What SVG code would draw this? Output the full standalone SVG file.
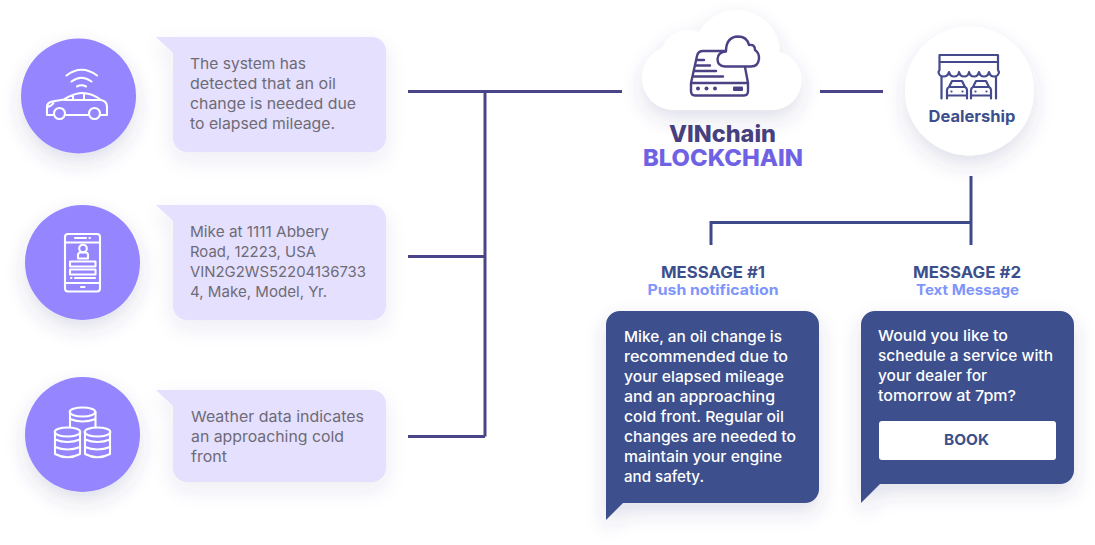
<svg xmlns="http://www.w3.org/2000/svg" width="1095" height="545" viewBox="0 0 1095 545">
<style>
text{font-family:Inter,"Noto Sans","Liberation Sans",sans-serif}
.body{font-size:15px;fill:#6e6b76}
.msg{font-size:15px;fill:#fff;font-weight:500}
.title{font-size:15.5px;font-weight:700;fill:#3c4f8c}
.sub{font-size:14px;font-weight:700;fill:#7e95fb}
.conn{fill:none;stroke:#4a4488;stroke-width:3}
.ic{fill:none;stroke:#fff;stroke-width:2.1;stroke-linecap:round;stroke-linejoin:round}
.id{fill:none;stroke:#4a4285;stroke-width:2.4;stroke-linecap:round;stroke-linejoin:round}
.idb{fill:none;stroke:#444a8c;stroke-width:2.2;stroke-linecap:round;stroke-linejoin:round}
.circ{fill:#9585ff;filter:url(#sh)}
.bub{fill:#e5e0fe;filter:url(#sh2)}
.dark{fill:#3c4f8c;filter:url(#sh)}
</style>
<defs>
<filter id="sh" x="-40%" y="-40%" width="180%" height="190%"><feDropShadow dx="0" dy="9" stdDeviation="10" flood-color="#40387f" flood-opacity=".16"/></filter>
<filter id="sh2" x="-30%" y="-40%" width="160%" height="190%"><feDropShadow dx="0" dy="8" stdDeviation="10" flood-color="#40387f" flood-opacity=".09"/></filter>
</defs>
<rect width="1095" height="545" fill="#fff"/>

<g id="connectors">
<path class="conn" d="M408 91.500H622M485 91.500V436.500M408 256.500H485M408 436.500H485M820 91.500H883"/>
<path class="conn" style="stroke:#3f4a8a" d="M971 176V245M711 245V222.500H971"/>
</g>

<g id="node-car">
<circle class="circ" cx="78.500" cy="96" r="57.500"/>
<path class="ic" d="M66.500 75.500Q81.500 64 97 75.500M71.500 81.500Q81.500 74 91.500 81.500M77 86.500Q81.500 84 86 86.500"/>
<path class="ic" d="M53.500 115H47V106.500Q47 103 52 101.500L64 99.500Q74 93 82 93Q92 93 101 100Q107 101 107 107V115H100M88 115H66M64 100H100M73 95V100M84 93.500V100M47.500 107Q52 106 54 102"/>
<circle class="ic" cx="59.500" cy="113.500" r="5.500"/><circle class="ic" cx="94.500" cy="113.500" r="5.500"/>
</g>
<g id="bubble-1">
<path class="bub" d="M156 37H372a14 14 0 0 1 14 14V138a14 14 0 0 1-14 14H187a14 14 0 0 1-14-14V53Z"/>
<text class="body" x="190" y="69" textLength="116" lengthAdjust="spacingAndGlyphs">The system has</text>
<text class="body" x="190" y="89" textLength="146" lengthAdjust="spacingAndGlyphs">detected that an oil</text>
<text class="body" x="190" y="109" textLength="166" lengthAdjust="spacingAndGlyphs">change is needed due</text>
<text class="body" x="190" y="129" textLength="145" lengthAdjust="spacingAndGlyphs">to elapsed mileage.</text>
</g>

<g id="node-phone">
<circle class="circ" cx="82.500" cy="262.500" r="57.500"/>
<rect class="ic" x="65" y="234" width="35" height="57.500" rx="3"/>
<path class="ic" d="M65 242.500H100M65 283H100M75 238H86M89.500 238H90M81 287H84.500M75 278H95M71 278H71.500"/>
<circle class="ic" cx="83" cy="248.500" r="3.800"/>
<path class="ic" d="M78 258.500V255Q78 253 80 252.500H86Q88 253 88 255V258.500Z"/>
<rect class="ic" x="70" y="261.500" width="25.500" height="5"/><rect class="ic" x="70" y="269.500" width="25.500" height="5"/>
</g>
<g id="bubble-2">
<path class="bub" d="M156 205H372a14 14 0 0 1 14 14V306a14 14 0 0 1-14 14H187a14 14 0 0 1-14-14V221Z"/>
<text class="body" x="190" y="237" textLength="139" lengthAdjust="spacingAndGlyphs">Mike at 1111 Abbery</text>
<text class="body" x="190" y="257" textLength="126" lengthAdjust="spacingAndGlyphs">Road, 12223, USA</text>
<text class="body" x="190" y="277" textLength="176" lengthAdjust="spacingAndGlyphs">VIN2G2WS52204136733</text>
<text class="body" x="190" y="297" textLength="137" lengthAdjust="spacingAndGlyphs">4, Make, Model, Yr.</text>
</g>

<g id="node-data">
<circle class="circ" cx="82.500" cy="434.500" r="57.500"/>
<path class="ic" d="M70 412V427M95.500 412V427M70 419Q82.500 424 95.500 419"/>
<ellipse class="ic" cx="82.500" cy="412" rx="12.800" ry="4.500"/>
<path class="ic" d="M55 432V454Q67.500 460.500 80 454V432M55 439.500Q67.500 444.500 80 439.500M55 447Q67.500 452 80 447"/>
<ellipse class="ic" cx="67.500" cy="432" rx="12.800" ry="4.500"/>
<path class="ic" d="M85 432V454Q97.500 460.500 110 454V432M85 439.500Q97.500 444.500 110 439.500M85 447Q97.500 452 110 447"/>
<ellipse class="ic" cx="97.500" cy="432" rx="12.800" ry="4.500"/>
</g>
<g id="bubble-3">
<path class="bub" d="M156 390H372a14 14 0 0 1 14 14V468a14 14 0 0 1-14 14H187a14 14 0 0 1-14-14V406Z"/>
<text class="body" x="191" y="422" textLength="173" lengthAdjust="spacingAndGlyphs">Weather data indicates</text>
<text class="body" x="191" y="442" textLength="153" lengthAdjust="spacingAndGlyphs">an approaching cold</text>
<text class="body" x="191" y="462" textLength="36" lengthAdjust="spacingAndGlyphs">front</text>
</g>

<g id="node-vinchain">
<g fill="#fff" filter="url(#sh)">
<circle cx="737" cy="53" r="43"/><circle cx="688" cy="57" r="27"/><circle cx="674" cy="78" r="32"/><circle cx="772" cy="80.500" r="29.500"/><rect x="674" y="60" width="98" height="50"/>
</g>
<path class="id" d="M691 83L697 56Q698 51 703 51H725M745 67L748 83M691 83V91Q691 95.500 695 95.500H744Q748 95.500 748 91V83ZM698 60H704M696 65.500H710M694.500 71H716M693 76.500H723"/>
<circle cx="698" cy="88.500" r="2" fill="#4a4285"/><circle cx="706.500" cy="88.500" r="2" fill="#4a4285"/><circle cx="715" cy="88.500" r="2" fill="#4a4285"/>
<rect x="733" y="86.500" width="10" height="4.500" rx="1" fill="#4a4285"/>
<path class="id" d="M725 66.500Q717.500 66 717.500 59Q718 52 726 51.500Q726 37 738 36.500Q747 36.500 749 45Q755 44 755 50Q759.500 53 759 59Q758 66.500 751 66.500Z"/>
<text x="722.500" y="142" text-anchor="middle" font-size="23" font-weight="800" fill="#46407f" textLength="107" lengthAdjust="spacingAndGlyphs">VINchain</text>
<text x="723" y="166" text-anchor="middle" font-size="23" font-weight="800" fill="#6f62e4" textLength="160" lengthAdjust="spacingAndGlyphs">BLOCKCHAIN</text>
</g>

<g id="node-dealership">
<circle cx="969.500" cy="91" r="64.500" fill="#fff" filter="url(#sh)"/>
<path class="idb" d="M939.500 70V55H998V70M939.500 62H998M939.500 70L938.500 72Q939 76.500 943.500 76.500Q948 76.500 949 72Q950 76.500 954 76.500Q958.500 76.500 959 72Q960 76.500 964 76.500Q968.500 76.500 969 72Q970 76.500 974 76.500Q978 76.500 979 72Q980 76.500 984 76.500Q988 76.500 989 72Q990 76.500 994 76.500Q998.500 76.500 999 72L998 70M941.500 76.500V98.500M996 76.500V98.500"/>
<path class="idb" d="M947 98.500V90Q947 88 949 87L952 81H962L965 87Q967 88 967 90V98.500M947 95.500H967M950 87H964"/>
<path class="idb" d="M971 98.500V90Q971 88 973 87L976 81H986L989 87Q991 88 991 90V98.500M971 95.500H991M974 87H988"/>
<circle cx="951.500" cy="91.500" r="1.100" fill="#444a8c"/><circle cx="962.500" cy="91.500" r="1.100" fill="#444a8c"/><circle cx="975.500" cy="91.500" r="1.100" fill="#444a8c"/><circle cx="986.500" cy="91.500" r="1.100" fill="#444a8c"/>
<text x="972" y="122" text-anchor="middle" font-size="15.500" font-weight="700" fill="#3c4f8c" textLength="87" lengthAdjust="spacingAndGlyphs">Dealership</text>
</g>

<g id="node-message-1">
<text class="title" x="713" y="278" text-anchor="middle" textLength="104" lengthAdjust="spacingAndGlyphs">MESSAGE #1</text>
<text class="sub" x="713" y="295" text-anchor="middle" textLength="131" lengthAdjust="spacingAndGlyphs">Push notification</text>
<path class="dark" d="M620 311H805a14 14 0 0 1 14 14V489a14 14 0 0 1-14 14H623L606 520V325a14 14 0 0 1 14-14Z"/>
<text class="msg" x="624" y="342" textLength="158" lengthAdjust="spacingAndGlyphs">Mike, an oil change is</text>
<text class="msg" x="624" y="362" textLength="164" lengthAdjust="spacingAndGlyphs">recommended due to</text>
<text class="msg" x="624" y="382" textLength="160" lengthAdjust="spacingAndGlyphs">your elapsed mileage</text>
<text class="msg" x="624" y="402" textLength="151" lengthAdjust="spacingAndGlyphs">and an approaching</text>
<text class="msg" x="624" y="422" textLength="160" lengthAdjust="spacingAndGlyphs">cold front. Regular oil</text>
<text class="msg" x="624" y="442" textLength="172" lengthAdjust="spacingAndGlyphs">changes are needed to</text>
<text class="msg" x="624" y="462" textLength="158" lengthAdjust="spacingAndGlyphs">maintain your engine</text>
<text class="msg" x="624" y="482" textLength="80" lengthAdjust="spacingAndGlyphs">and safety.</text>
</g>

<g id="node-message-2">
<text class="title" x="967" y="278" text-anchor="middle" textLength="108" lengthAdjust="spacingAndGlyphs">MESSAGE #2</text>
<text class="sub" x="967.500" y="295" text-anchor="middle" textLength="103" lengthAdjust="spacingAndGlyphs">Text Message</text>
<path class="dark" d="M875 311H1060a14 14 0 0 1 14 14V470a14 14 0 0 1-14 14H880L861 503V325a14 14 0 0 1 14-14Z"/>
<text class="msg" x="878" y="341" textLength="130" lengthAdjust="spacingAndGlyphs">Would you like to</text>
<text class="msg" x="878" y="361" textLength="175" lengthAdjust="spacingAndGlyphs">schedule a service with</text>
<text class="msg" x="878" y="381" textLength="109" lengthAdjust="spacingAndGlyphs">your dealer for</text>
<text class="msg" x="878" y="401" textLength="138" lengthAdjust="spacingAndGlyphs">tomorrow at 7pm?</text>
<rect x="879" y="421" width="177" height="39" rx="3" fill="#fff"/>
<text x="966.500" y="445" text-anchor="middle" font-size="15" font-weight="700" fill="#3c4f8c" textLength="45" lengthAdjust="spacingAndGlyphs">BOOK</text>
</g>
</svg>
